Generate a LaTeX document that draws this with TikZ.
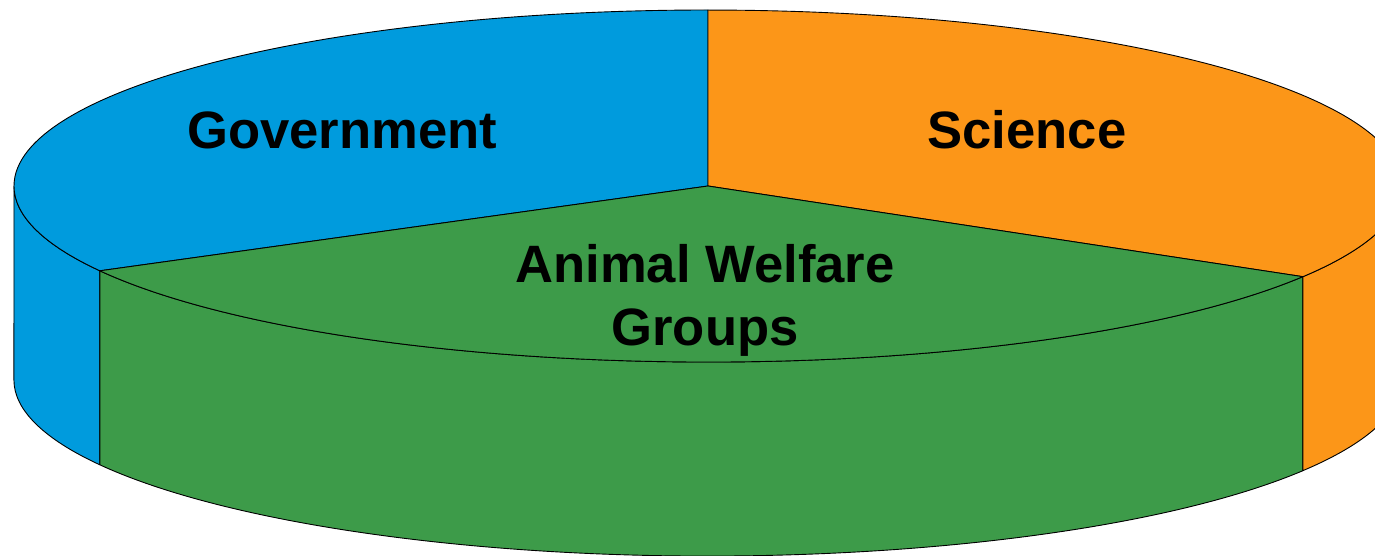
\documentclass[tikz,border=0pt]{standalone}
\usepackage{fontspec}
\setmainfont{Liberation Sans}
\definecolor{gov}{RGB}{0,155,221}
\definecolor{sci}{RGB}{252,150,24}
\definecolor{awg}{RGB}{61,155,73}
\begin{document}
\begin{tikzpicture}[x=1pt,y=1pt,
  slice/.style={draw=black, line width=0.9pt, line join=round},
  lbl/.style={font=\fontsize{52.6}{63}\selectfont\bfseries, align=center, inner sep=0pt}]
\useasboundingbox (0,0) rectangle (1375,555);
\coordinate (C) at (708,369);
\coordinate (T) at (708,545);
\coordinate (W) at (14,369);
\coordinate (E) at (1402,369);
\coordinate (L) at (99.8,284.2);
\coordinate (R) at (1302.9,278.3);
\coordinate (LB) at (99.8,90.2);
\coordinate (RB) at (1302.9,84.3);
\coordinate (WB) at (14,175);
\coordinate (EB) at (1402,175);
% side walls
\filldraw[slice, fill=gov] (W) arc[start angle=180, end angle=208.8, x radius=694pt, y radius=176pt]
  -- (LB) arc[start angle=208.8, end angle=180, x radius=694pt, y radius=176pt] -- cycle;
\filldraw[slice, fill=awg] (L) arc[start angle=208.8, end angle=329, x radius=694pt, y radius=176pt]
  -- (RB) arc[start angle=329, end angle=208.8, x radius=694pt, y radius=176pt] -- cycle;
\filldraw[slice, fill=sci] (R) arc[start angle=329, end angle=360, x radius=694pt, y radius=176pt]
  -- (EB) arc[start angle=360, end angle=329, x radius=694pt, y radius=176pt] -- cycle;
% top slices
\filldraw[slice, fill=gov] (C) -- (T) arc[start angle=90, end angle=208.8, x radius=694pt, y radius=176pt] -- cycle;
\filldraw[slice, fill=sci] (C) -- (R) arc[start angle=-31, end angle=90, x radius=694pt, y radius=176pt] -- cycle;
\filldraw[slice, fill=awg] (C) -- (L) arc[start angle=208.8, end angle=329, x radius=694pt, y radius=176pt] -- cycle;
% labels
\node[lbl] (gov) at (342,425) {Government};
\node[lbl] (sci) at (1027,425) {Science};
\node[lbl] (awg) at (705,255) {Animal Welfare\\Groups};
\end{tikzpicture}
\end{document}
